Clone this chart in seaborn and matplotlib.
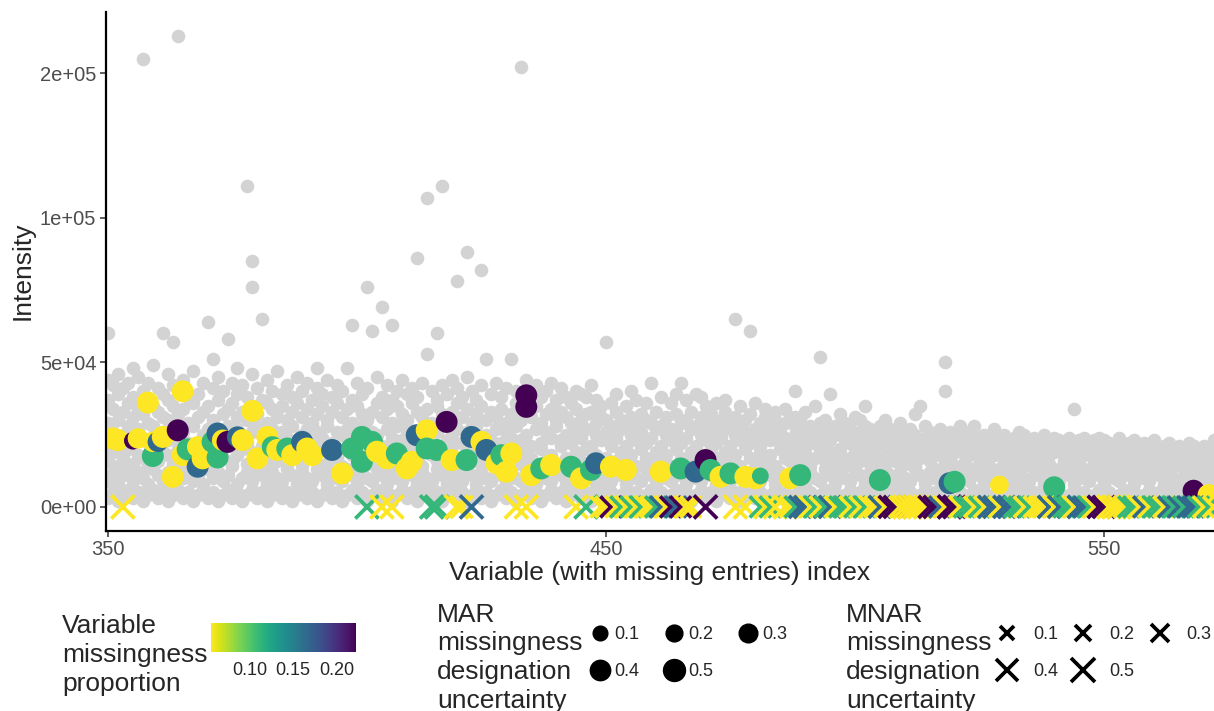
import numpy as np
import pandas as pd
import matplotlib
matplotlib.use("Agg")
import matplotlib.pyplot as plt
import matplotlib.colors as mcolors
from matplotlib.cm import ScalarMappable
from matplotlib.lines import Line2D
import seaborn as sns

sns.set_style("ticks")
plt.rcParams["font.family"] = ["Liberation Sans", "DejaVu Sans"]

# ---------------------------------------------------------------- data
N_SAMPLES = 18

# observed intensities (thousands) for each variable, starting at index 350
gray_first_index = 350
gray_k = [
    "3 9 16 22 29 37 44 60", "5 12 19 26 34 42", "2 8 14 21 30 39 46", "4 11 17 25 33 41",
    "6 13 20 28 36 43", "3 9 15 23 31 38 48", "5 12 18 27 34 45", "2 10 17 24 32 40 155",
    "4 8 14 22 29 37 43", "6 13 21 28 35 49", "3 11 16 25 33 41", "5 9 19 26 31 39 60",
    "2 12 18 23 30 37 46", "4 8 15 27 35 42 57", "6 13 20 24 32 40 163", "3 10 17 26 34 44",
    "5 12 16 22 29 38", "2 9 19 28 36 47", "4 11 14 21 31 39", "6 8 18 25 33 43",
    "3 13 20 27 35 64", "5 10 15 24 30 41 51", "2 12 19 26 37 45", "4 9 17 23 32 40",
    "6 11 21 28 34 58", "3 14 16 25 36 43", "5 8 18 27 31 39 48", "2 10 20 24 33 42",
    "4 12 15 22 30 38 111", "6 9 19 26 35 46 76 85", "3 13 17 28 32 41", "5 11 21 25 37 65",
    "2 8 14 23 29 36 44", "4 12 18 27 34 40", "6 10 16 22 31 47", "3 9 20 26 35 39",
    "5 13 15 24 30 42", "2 11 19 28 33 38", "4 8 17 21 36 45", "6 12 14 25 31 40",
    "3 10 18 27 34 43", "5 9 21 23 29 37", "2 13 16 26 32 41 48", "4 11 20 24 35 39",
    "6 8 15 28 30 44", "3 12 19 22 33 38", "5 10 17 26 36 42", "2 9 14 25 31 40",
    "4 13 21 27 34 48", "6 11 18 23 29 37 63", "3 8 16 24 35 43", "5 12 20 28 32 39",
    "2 10 15 22 30 41 76", "4 9 19 26 33 61", "6 13 17 25 36 45", "3 11 14 21 31 38 69",
    "5 8 20 27 34 42", "2 12 18 24 29 37 63", "4 10 16 28 35 40", "6 9 21 23 32 44",
    "3 13 15 26 30 39", "5 11 19 22 36 41", "2 8 17 25 33 38 86", "4 12 14 27 31 43",
    "6 10 20 24 34 53 107", "3 9 18 21 29 40", "5 13 16 26 35 37 60", "2 11 19 28 32 42 111",
    "4 8 15 23 30 39", "6 12 21 25 33 44", "3 10 17 27 36 41 78", "5 9 14 22 31 38",
    "2 13 20 26 34 45 88", "4 11 16 24 29 40", "6 8 18 28 32 37", "3 12 15 21 35 42 82",
    "5 10 19 25 30 51", "2 9 17 23 33 39", "4 13 14 27 31 43", "6 11 20 22 34 38",
    "3 8 16 26 29 41", "5 12 18 24 32 51", "2 10 21 28 36 40", "4 9 15 23 30 37 152",
    "6 13 19 25 33 44", "3 11 17 21 31 39", "5 8 14 27 35 42", "2 12 20 22 29 38",
    "4 10 16 26 32 40", "6 9 18 24 34 43", "3 13 15 28 30 37", "5 11 21 23 33 41",
    "2 8 17 25 31 38", "4 12 14 22 29 36", "6 10 19 26 34 40", "3 9 16 24 30 39",
    "5 13 20 27 32 38", "2 11 15 21 33 42", "4 8 18 25 29 37", "6 12 14 23 31 35",
    "3 10 17 26 30 57", "5 9 21 22 28 36", "2 13 16 24 33 39", "4 11 19 27 30",
    "6 8 15 21 29 35", "3 12 18 25 31 40", "5 10 14 23 28 37", "2 9 20 26 32",
    "4 13 17 22 30 36", "6 11 16 24 29 43", "3 8 19 27 33", "5 12 15 21 28 38",
    "2 10 18 25 31", "4 9 14 23 27 36", "6 13 20 26 32 39", "3 11 17 22 29 43",
    "5 8 16 24 30 37", "2 12 19 27 33", "4 10 15 21 28 39", "6 9 18 25 31 38",
    "3 13 14 23 29 35", "5 11 20 26 32", "2 8 17 22 28 36", "4 12 16 24 30",
    "6 10 19 27 33 37", "3 9 15 21 29", "5 13 18 25 31 65", "2 11 14 23 28 35",
    "4 8 20 26 30", "6 12 17 22 32 61", "3 10 16 24 27 36", "5 9 19 21 29",
    "2 13 15 25 31 34", "4 11 18 23 28", "6 8 14 26 30 33", "3 12 20 22 27",
    "5 10 17 24 29 34", "2 9 16 21 31", "4 13 19 25 28 31 40", "6 11 15 23 30",
    "3 8 18 20 26 33", "5 12 14 24 28", "2 10 17 22 27 35", "4 9 20 25 29 52",
    "6 13 16 21 30", "3 11 19 23 27 39", "5 8 15 25 28", "2 12 18 20 26 32",
    "4 10 14 23 29", "6 9 17 22 27", "3 13 20 24 31", "5 11 16 21 26 30",
    "2 8 19 25 28 35", "4 12 15 22 27", "6 10 18 20 26", "3 9 14 23 28",
    "5 13 17 21 25 30", "2 11 20 24 27", "4 8 16 22 26", "6 12 19 23 29",
    "3 10 15 20 25", "5 9 18 22 27", "2 13 14 21 25 32", "4 11 17 23 35",
    "6 8 20 24 28", "3 12 16 19 26", "5 10 13 22 25", "2 9 18 21 27",
    "4 13 15 20 24 40 50", "6 11 17 23 26", "3 8 14 19 25", "5 12 20 22 28",
    "2 10 16 21 24", "4 9 13 18 26", "6 13 19 23 28", "3 11 15 20 24",
    "5 8 17 22 25", "2 12 14 19 23", "4 10 18 21 27", "6 9 13 20 24",
    "3 13 16 22 25", "5 11 19 21 23", "2 8 15 18 24", "4 12 17 20 26",
    "6 10 14 22 25", "3 9 18 21 23", "5 13 16 19 24", "2 11 14 20 22",
    "4 8 17 21 25", "6 12 15 18 23", "3 10 19 22 24", "5 9 13 20 23",
    "2 13 16 18 22", "4 11 14 21 24", "6 8 17 19 34", "3 12 15 20 23",
    "5 10 18 21 24", "2 9 13 19 22", "4 13 16 20 23", "6 11 14 18 24",
    "3 8 17 21 23", "5 12 15 19 22", "2 10 13 18 21", "4 9 16 20 24",
    "6 13 14 17 21", "3 11 18 19 22", "5 8 15 20 23", "2 12 13 17 21",
    "4 10 16 19 22", "6 9 14 18 20", "3 13 17 21 23", "5 11 15 18 20",
    "2 8 13 16 21", "4 12 17 19 22", "6 10 14 18 20", "3 9 16 19 21",
    "5 13 15 17 20", "2 11 14 18 22", "4 8 16 19 21", "6 12 13 17 20",
    "3 10 15 18 21", "5 9 14 16 19", "2 13 17 20 23",
]

# MAR-designated missing entries: variable index, intensity (thousands),
# missing count out of N_SAMPLES, designation uncertainty
mar_index = [
    351, 352, 355, 356, 358, 359, 359, 360, 361, 363,
    364, 365, 365, 366, 368, 368, 369, 371, 372, 372,
    373, 374, 376, 377, 379, 380, 382, 383, 384, 386,
    387, 389, 390, 391, 395, 397, 399, 401, 401, 403,
    404, 406, 408, 410, 411, 412, 414, 414, 416, 418,
    419, 422, 423, 425, 426, 428, 429, 430, 431, 434,
    434, 435, 437, 439, 443, 445, 447, 448, 451, 454,
    461, 465, 468, 470, 471, 473, 475, 478, 480, 481,
    487, 489, 505, 519, 520, 529, 540, 568, 571]
mar_k = [
    23.7, 23.1, 22.9, 23.7, 36.1, 17.6, 22.5, 22.5, 24.2, 10.4,
    26.5, 40.0, 17.9, 19.9, 20.8, 13.9, 16.8, 22.5, 25.4, 17.1,
    23.1, 22.5, 24.2, 23.1, 33.2, 16.8, 24.2, 20.8, 19.7, 20.2,
    17.9, 22.5, 20.2, 17.9, 19.7, 11.6, 20.2, 24.2, 15.6, 22.5,
    19.1, 16.8, 18.5, 13.3, 15.6, 24.8, 26.5, 20.2, 19.7, 29.4,
    16.2, 16.2, 24.2, 22.5, 19.7, 15.1, 17.9, 12.2, 18.5, 38.6,
    34.6, 11.0, 13.3, 14.5, 13.9, 9.9, 12.8, 15.1, 13.9, 12.8,
    12.2, 13.3, 12.2, 16.2, 12.8, 10.4, 11.6, 10.4, 9.9, 10.7,
    9.9, 11.0, 9.3, 8.2, 8.7, 7.6, 6.8, 5.6, 4.1]
mar_nmiss = [
    1, 1, 4, 1, 1, 2, 1, 3, 1, 1,
    4, 1, 1, 2, 1, 3, 1, 2, 3, 2,
    1, 4, 3, 1, 1, 1, 1, 2, 1, 2,
    1, 3, 1, 1, 3, 1, 2, 2, 2, 2,
    1, 1, 2, 1, 1, 3, 1, 2, 2, 4,
    1, 2, 3, 1, 3, 1, 2, 1, 1, 4,
    4, 1, 2, 1, 2, 1, 2, 3, 1, 1,
    1, 2, 3, 4, 2, 1, 2, 1, 1, 2,
    1, 2, 2, 3, 2, 1, 2, 4, 1]
mar_unc = [
    0.5, 0.5, 0.25, 0.4, 0.5, 0.5, 0.4, 0.4, 0.5, 0.5,
    0.5, 0.5, 0.5, 0.5, 0.45, 0.5, 0.5, 0.5, 0.5, 0.5,
    0.45, 0.5, 0.45, 0.5, 0.5, 0.5, 0.5, 0.45, 0.5, 0.5,
    0.5, 0.5, 0.5, 0.5, 0.5, 0.5, 0.5, 0.5, 0.5, 0.5,
    0.5, 0.5, 0.5, 0.5, 0.5, 0.5, 0.5, 0.5, 0.5, 0.5,
    0.5, 0.5, 0.5, 0.5, 0.5, 0.5, 0.5, 0.5, 0.5, 0.5,
    0.5, 0.5, 0.5, 0.5, 0.5, 0.5, 0.5, 0.5, 0.5, 0.5,
    0.5, 0.5, 0.5, 0.5, 0.5, 0.5, 0.5, 0.5, 0.5, 0.2,
    0.5, 0.5, 0.5, 0.5, 0.5, 0.3, 0.5, 0.5, 0.5]

# MNAR-designated missing entries (drawn at zero intensity)
mnar_index = [
    353, 402, 405, 407, 415, 416, 420, 421, 423, 432,
    434, 444, 446, 449, 450, 451, 452, 453, 454, 455,
    456, 457, 458, 459, 460, 461, 462, 463, 464, 465,
    466, 467, 470, 476, 478, 481, 482, 483, 484, 486,
    487, 488, 489, 490, 491, 492, 493, 494, 495, 496,
    497, 498, 499, 500, 501, 502, 503, 504, 505, 506,
    507, 508, 509, 510, 511, 512, 513, 514, 515, 516,
    517, 518, 519, 520, 521, 522, 523, 524, 525, 526,
    527, 528, 529, 530, 531, 532, 533, 534, 535, 536,
    537, 538, 539, 540, 541, 542, 543, 544, 545, 546,
    547, 548, 549, 550, 551, 552, 553, 554, 555, 556,
    557, 558, 559, 560, 561, 562, 563, 564, 565, 566,
    567, 568, 569, 570, 571, 572]
mnar_nmiss = [
    1, 2, 1, 1, 2, 2, 1, 1, 3, 1,
    1, 1, 2, 1, 1, 4, 1, 2, 1, 2,
    1, 2, 1, 1, 2, 3, 1, 4, 3, 4,
    1, 1, 4, 1, 1, 2, 1, 2, 1, 1,
    1, 2, 3, 3, 1, 2, 1, 2, 3, 1,
    2, 2, 1, 2, 1, 2, 1, 1, 3, 1,
    4, 4, 1, 1, 1, 1, 1, 1, 4, 4,
    3, 1, 4, 4, 1, 2, 2, 1, 2, 1,
    3, 3, 1, 3, 3, 2, 2, 1, 2, 1,
    1, 1, 3, 1, 3, 2, 2, 1, 3, 3,
    2, 1, 4, 4, 1, 1, 1, 1, 2, 2,
    1, 3, 1, 2, 2, 1, 3, 2, 3, 2,
    3, 3, 2, 1, 2, 1]
mnar_unc = [
    0.5, 0.5, 0.5, 0.5, 0.5, 0.5, 0.5, 0.45, 0.5, 0.5,
    0.5, 0.5, 0.5, 0.4, 0.4, 0.4, 0.4, 0.4, 0.4, 0.4,
    0.4, 0.4, 0.4, 0.4, 0.4, 0.4, 0.4, 0.4, 0.4, 0.4,
    0.4, 0.4, 0.5, 0.5, 0.5, 0.4, 0.4, 0.4, 0.5, 0.5,
    0.4, 0.4, 0.45, 0.45, 0.4, 0.4, 0.4, 0.4, 0.45, 0.4,
    0.4, 0.4, 0.4, 0.4, 0.4, 0.4, 0.4, 0.4, 0.45, 0.4,
    0.45, 0.45, 0.4, 0.5, 0.5, 0.5, 0.5, 0.4, 0.45, 0.45,
    0.4, 0.4, 0.5, 0.45, 0.4, 0.4, 0.4, 0.4, 0.4, 0.4,
    0.45, 0.45, 0.4, 0.45, 0.4, 0.4, 0.4, 0.4, 0.4, 0.4,
    0.4, 0.4, 0.45, 0.4, 0.45, 0.4, 0.4, 0.4, 0.45, 0.4,
    0.4, 0.4, 0.45, 0.45, 0.5, 0.5, 0.5, 0.4, 0.4, 0.4,
    0.4, 0.4, 0.4, 0.4, 0.4, 0.4, 0.4, 0.4, 0.4, 0.4,
    0.4, 0.4, 0.4, 0.4, 0.4, 0.4]

yticks = [0, 50000, 100000, 150000]
ytick_labels = ["0e+00", "5e+04", "1e+05", "2e+05"]
xticks = [350, 450, 550]
legend_levels = [0.1, 0.2, 0.3, 0.4, 0.5]
colorbar_ticks = [0.10, 0.15, 0.20]

# ---------------------------------------------------------------- frames
gx, gy = [], []
for offset, row in enumerate(gray_k):
    for v in row.split():
        gx.append(gray_first_index + offset)
        gy.append(float(v) * 1000)
observed = pd.DataFrame({"index": gx, "intensity": gy})

mar = pd.DataFrame({
    "index": mar_index,
    "intensity": np.array(mar_k) * 1000,
    "prop": np.array(mar_nmiss) / N_SAMPLES,
    "unc": mar_unc,
})
mnar = pd.DataFrame({
    "index": mnar_index,
    "intensity": 0.0,
    "prop": np.array(mnar_nmiss) / N_SAMPLES,
    "unc": mnar_unc,
})

# ---------------------------------------------------------------- styling
W, H, DPI = 1214, 711, 100
cmap = plt.get_cmap("viridis_r")
hue_norm = mcolors.Normalize(1 / N_SAMPLES, 4 / N_SAMPLES)
size_norm = (0.1, 0.5)
circle_sizes = (112, 250)   # marker area (pt^2) at uncertainty 0.1 and 0.5
cross_sizes = (88, 280)
cross_lw = 2.7


def area(v, sizes):
    lo, hi = sizes
    return lo + (v - size_norm[0]) / (size_norm[1] - size_norm[0]) * (hi - lo)


fig = plt.figure(figsize=(W / DPI, H / DPI), dpi=DPI)
ax = fig.add_axes([106 / W, 1 - 530.5 / H, (W - 106) / W, (530.5 - 12) / H])

sns.scatterplot(data=observed, x="index", y="intensity", color="#D3D3D3",
                s=96, linewidth=0, ax=ax, legend=False, zorder=1)
sns.scatterplot(data=mar, x="index", y="intensity", hue="prop", size="unc",
                palette=cmap, hue_norm=hue_norm, sizes=circle_sizes,
                size_norm=size_norm, linewidth=0, ax=ax, legend=False, zorder=2)
sns.scatterplot(data=mnar, x="index", y="intensity", hue="prop", size="unc",
                palette=cmap, hue_norm=hue_norm, sizes=cross_sizes,
                size_norm=size_norm, marker="x", linewidth=cross_lw, ax=ax,
                legend=False, zorder=3)

ax.set_xlim(349.6, 572.1)
ax.set_ylim(-8150, 171150)
ax.set_xticks(xticks)
ax.set_yticks(yticks, ytick_labels)
ax.tick_params(axis="both", labelsize=14.5, labelcolor="#4D4D4D", length=4,
               width=1.1, color="#333333", pad=3)
for side in ("top", "right"):
    ax.spines[side].set_visible(False)
for side in ("left", "bottom"):
    ax.spines[side].set_linewidth(1.6)
    ax.spines[side].set_color("black")
ax.set_xlabel("Variable (with missing entries) index", fontsize=19, labelpad=1)
ax.set_ylabel("Intensity", fontsize=19, labelpad=4)

# ---------------------------------------------------------------- legends
def fx(px):
    return px / W


def fy(py):
    return 1 - py / H


fig.text(fx(62), fy(614), "Variable\nmissingness\nproportion", fontsize=19,
         va="top", ha="left", linespacing=1.25)
cax = fig.add_axes([fx(211), fy(652), 145 / W, 29 / H])
cb = fig.colorbar(ScalarMappable(norm=hue_norm, cmap=cmap), cax=cax,
                  orientation="horizontal", ticks=colorbar_ticks)
cb.outline.set_visible(False)
cb.set_ticklabels([f"{t:.2f}" for t in colorbar_ticks])
cax.tick_params(axis="x", direction="in", color="white", length=5, width=1,
                top=True, bottom=True, labelsize=13, pad=7)

fig.text(fx(437), fy(602.5), "MAR\nmissingness\ndesignation\nuncertainty",
         fontsize=19, va="top", ha="left", linespacing=1.25)
fig.text(fx(846), fy(602.5), "MNAR\nmissingness\ndesignation\nuncertainty",
         fontsize=19, va="top", ha="left", linespacing=1.25)

# row-major key layout: 0.1 0.2 0.3 / 0.4 0.5
order = [0, 3, 1, 4, 2]
circle_handles = [Line2D([], [], linestyle="", marker="o", color="black",
                         markersize=np.sqrt(area(legend_levels[i], circle_sizes)))
                  for i in order]
cross_handles = [Line2D([], [], linestyle="", marker="x", color="black",
                        markeredgewidth=cross_lw,
                        markersize=np.sqrt(area(legend_levels[i], cross_sizes)))
                 for i in order]
labels = [f"{legend_levels[i]:.1f}" for i in order]

fig.legend(circle_handles, labels, ncol=3, loc="upper left",
           bbox_to_anchor=(fx(591), fy(626)), bbox_transform=fig.transFigure,
           frameon=False, fontsize=13, handlelength=1.0, handletextpad=0.28,
           columnspacing=1.43, labelspacing=1.1, borderpad=0, borderaxespad=0)
fig.legend(cross_handles, labels, ncol=3, loc="upper left",
           bbox_to_anchor=(fx(998), fy(626)), bbox_transform=fig.transFigure,
           frameon=False, fontsize=13, handlelength=1.0, handletextpad=0.94,
           columnspacing=0.91, labelspacing=1.1, borderpad=0, borderaxespad=0)

fig.savefig("out.png", dpi=DPI)
